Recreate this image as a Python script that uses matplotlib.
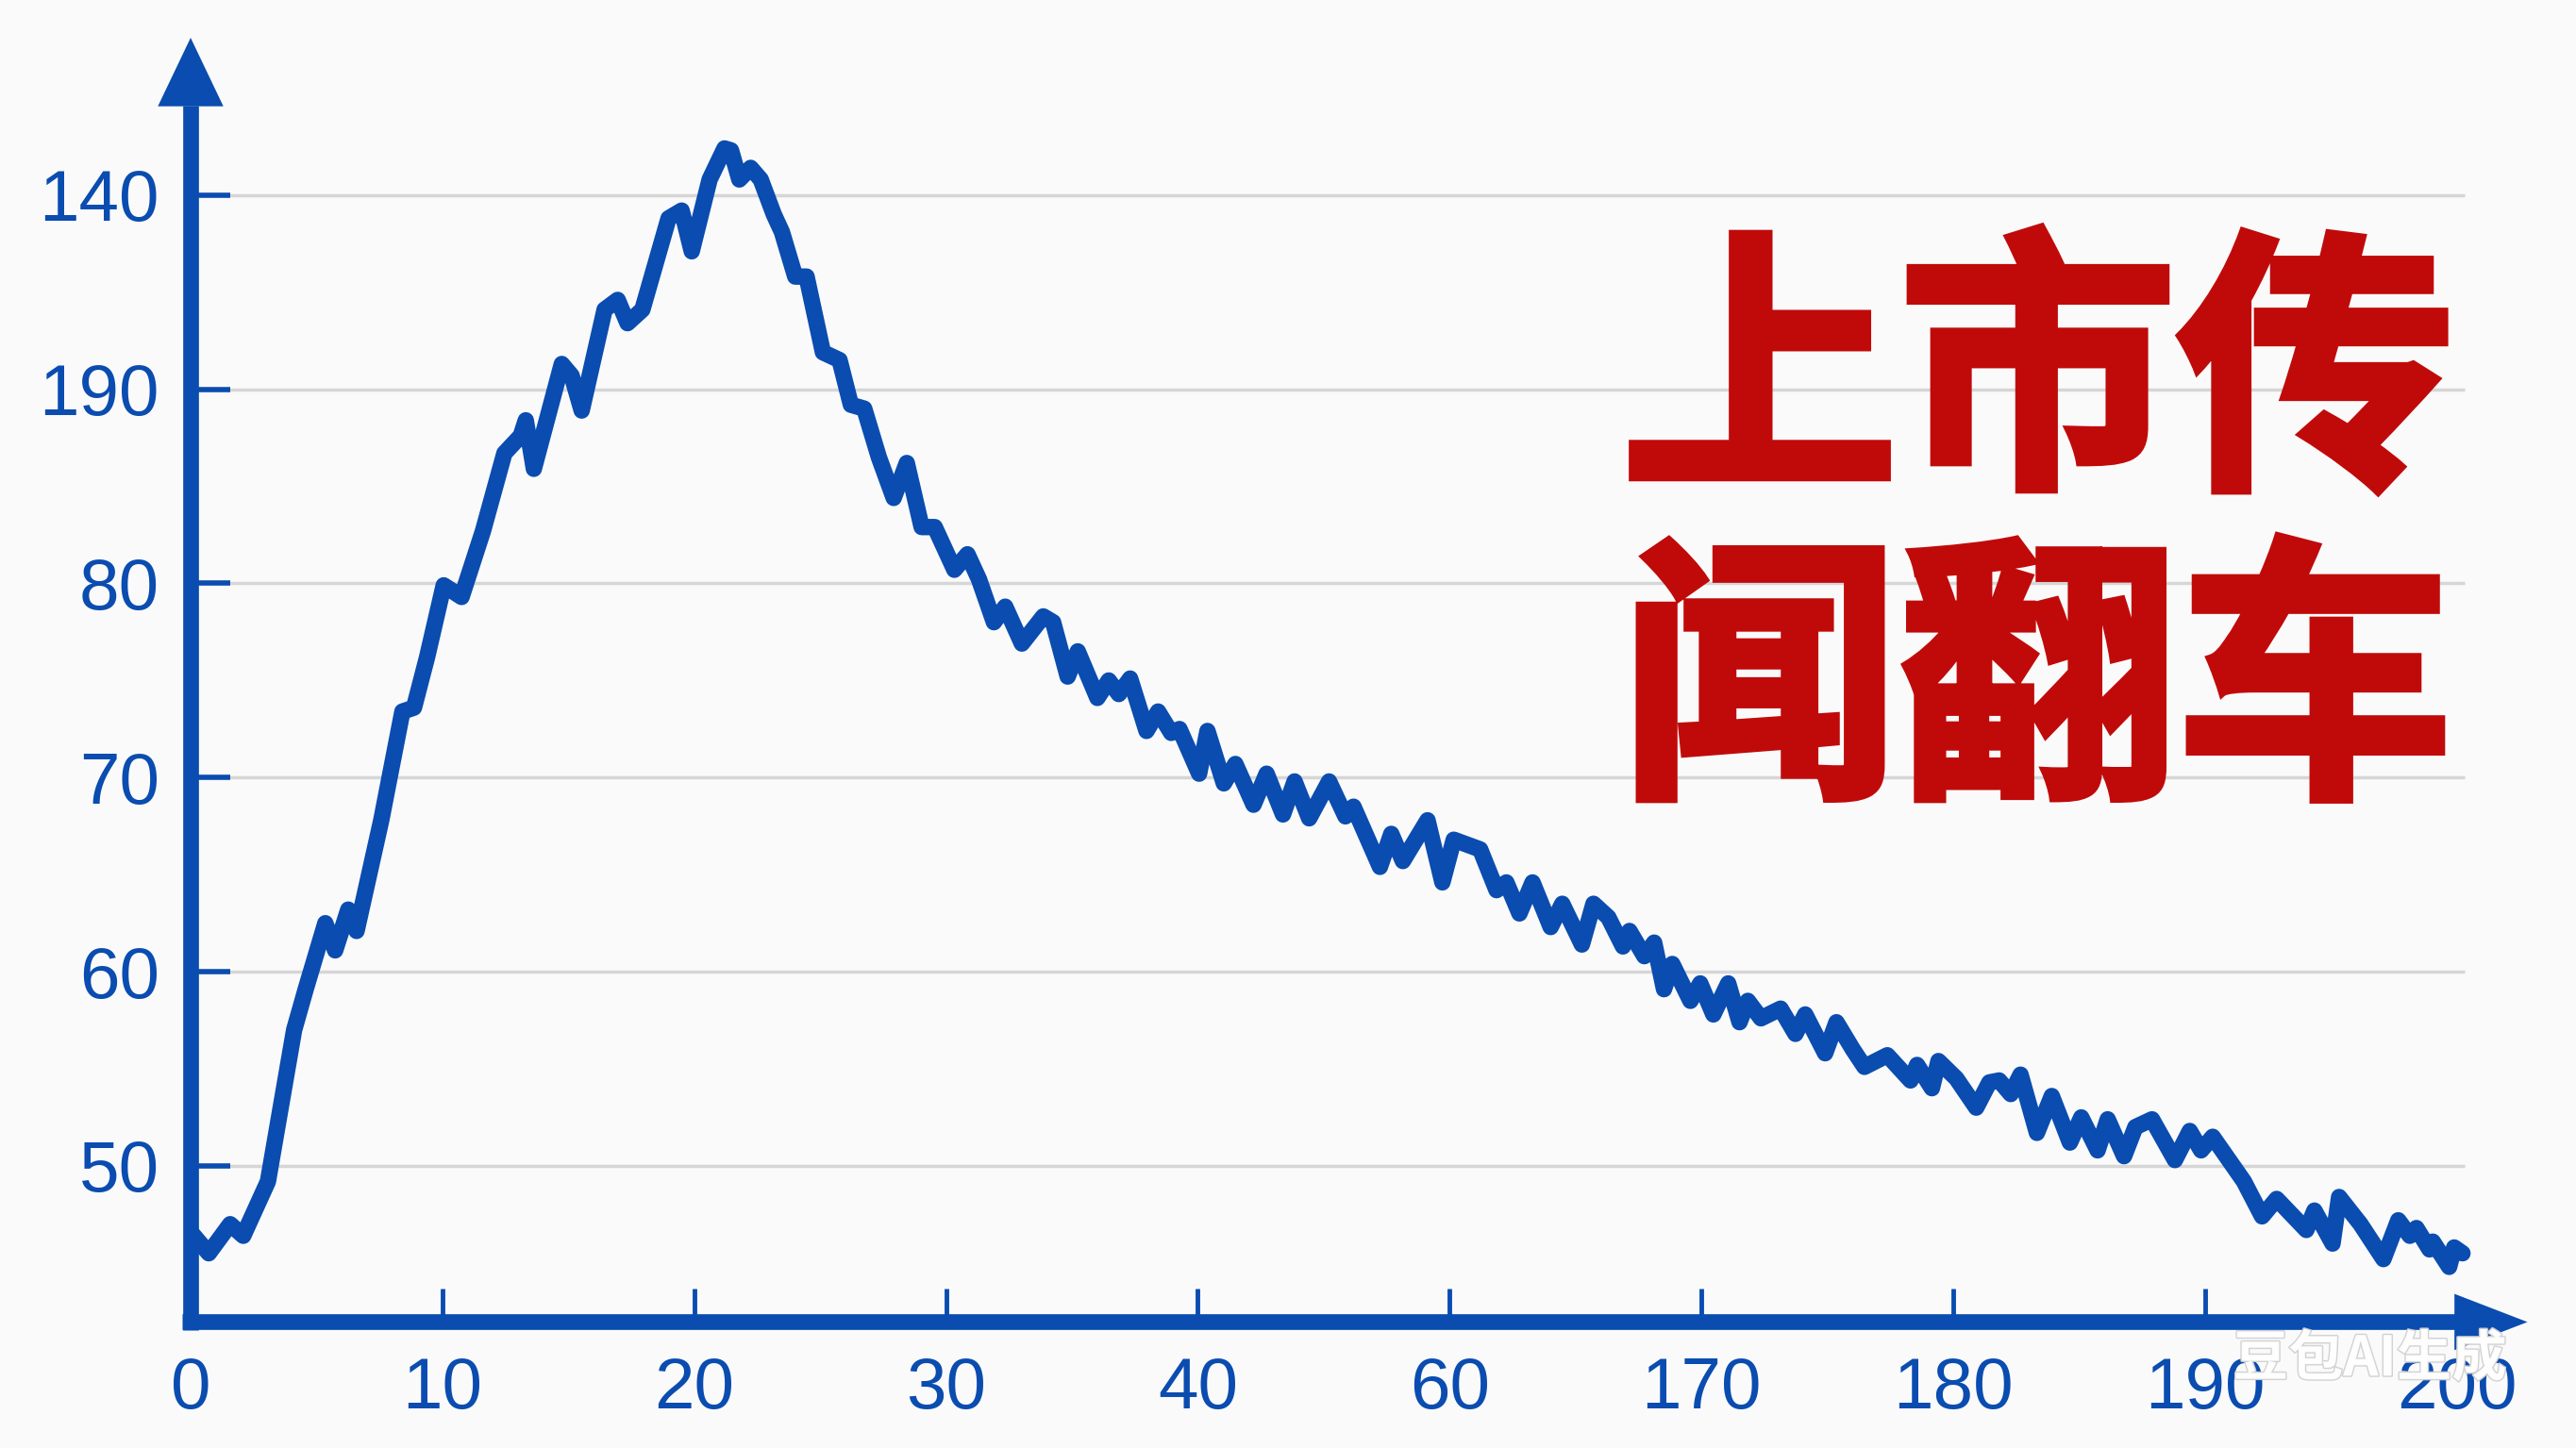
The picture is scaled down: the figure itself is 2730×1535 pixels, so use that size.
import matplotlib
matplotlib.use('Agg')
import matplotlib.pyplot as plt
from matplotlib.patches import Polygon
import matplotlib.patheffects as pe

plt.rcParams['font.family'] = ['Liberation Sans', 'Noto Sans CJK SC', 'DejaVu Sans']

# ---- data ----
x_vals = [0.0, 0.72, 1.57, 2.09, 3.07, 4.11, 4.57, 5.35, 5.74, 6.26, 6.59, 7.57, 8.41, 8.87, 9.39,
          10.05, 10.76, 11.61, 12.46, 13.11, 13.31, 13.63, 14.74, 15.13, 15.53, 16.44, 16.96, 17.35,
          17.94, 18.98, 19.50, 19.90, 20.61, 21.20, 21.46, 21.79, 22.24, 22.64, 23.16, 23.48, 24.01,
          24.46, 25.11, 25.77, 26.22, 26.75, 27.33, 27.92, 28.44, 29.03, 29.55, 30.33, 30.85, 31.31,
          31.90, 32.35, 33.01, 33.86, 34.25, 34.83, 35.23, 36.01, 36.46, 36.86, 37.31, 37.96, 38.42,
          38.94, 39.27, 40.05, 40.38, 41.03, 41.49, 42.21, 42.73, 43.38, 43.84, 44.42, 45.21, 45.86,
          46.18, 47.23, 47.68, 48.14, 49.12, 49.71, 50.16, 51.21, 51.86, 52.25, 52.77, 53.29, 54.01,
          54.47, 55.25, 55.71, 56.30, 56.88, 57.14, 57.73, 58.12, 58.51, 58.84, 59.56, 59.95, 60.47,
          61.06, 61.51, 61.84, 62.36, 63.14, 63.73, 64.12, 64.91, 65.36, 66.01, 66.47, 67.38, 68.30,
          68.56, 69.15, 69.41, 70.12, 70.91, 71.43, 71.82, 72.28, 72.67, 73.32, 73.91, 74.63, 75.08,
          75.73, 76.13, 76.78, 77.23, 77.89, 78.80, 79.39, 79.84, 80.30, 81.54, 82.26, 82.84, 84.02,
          84.34, 85.06, 85.32, 86.17, 87.08, 87.67, 88.13, 88.39, 88.91, 89.04, 89.69, 89.89, 90.22]
y_vals = [46.6, 45.5, 47.0, 46.4, 49.2, 57.0, 59.1, 62.5, 61.1, 63.2, 62.1, 67.8, 73.4, 73.6, 76.2,
          79.9, 79.3, 82.7, 86.7, 87.6, 88.4, 85.9, 91.3, 90.7, 88.9, 94.1, 94.6, 93.4,
          94.1, 98.8, 99.2, 97.1, 100.8, 102.4, 102.3, 100.8, 101.4, 100.8, 99.0, 98.1, 95.8,
          95.8, 91.9, 91.5, 89.2, 89.0, 86.5, 84.4, 86.2, 82.9, 82.9, 80.7, 81.5, 80.2,
          78.0, 78.8, 76.9, 78.3, 78.0, 75.2, 76.5, 74.1, 75.0, 74.3, 75.1, 72.4, 73.4,
          72.3, 72.5, 70.2, 72.4, 69.7, 70.7, 68.6, 70.2, 68.1, 69.8, 67.9, 69.8, 68.0,
          68.5, 65.4, 67.1, 65.7, 67.8, 64.6, 66.8, 66.3, 64.2, 64.6, 63.0, 64.6, 62.3,
          63.5, 61.4, 63.5, 62.8, 61.3, 62.1, 60.8, 61.5, 59.1, 60.4, 58.5, 59.4, 57.8,
          59.4, 57.4, 58.5, 57.6, 58.1, 56.8, 57.8, 55.8, 57.4, 56.0, 55.1, 55.7, 54.4,
          55.2, 54.0, 55.4, 54.5, 53.0, 54.3, 54.4, 53.7, 54.7, 51.7, 53.6, 51.2, 52.5,
          50.8, 52.4, 50.5, 52.0, 52.4, 50.3, 51.8, 50.8, 51.5, 49.2, 47.4, 48.3, 46.7,
          47.7, 46.0, 48.4, 47.0, 45.2, 47.2, 46.4, 46.8, 45.7, 46.1, 44.8, 45.8, 45.5]

x_ticks = [0, 10, 20, 30, 40, 50, 60, 70, 80, 90]
x_labels = ['0', '10', '20', '30', '40', '60', '170', '180', '190', '200']
y_ticks = [50, 60, 70, 80, 90, 100]
y_labels = ['50', '60', '70', '80', '190', '140']
title_lines = ['上市传', '闻翻车']
watermark = '豆包AI生成'

BLUE = '#0a4cb0'
RED = '#c00a0a'
BG = '#fafafa'

X0, X1 = 0, 93.5
Y0, Y1 = 41.96, 109

fig = plt.figure(figsize=(27.3, 15.35), dpi=100, facecolor=BG)
ax = fig.add_axes([0.074, 0.087, 0.914, 0.899])
ax.set_facecolor('none')
ax.set_xlim(X0, X1)
ax.set_ylim(Y0, Y1)
for s in ax.spines.values():
    s.set_visible(False)

# gridlines
ax.hlines(y_ticks, 0, 90.3, colors='#d6d6d6', lw=2.5, zorder=1)

# data line
ax.plot(x_vals, y_vals, color=BLUE, lw=12.5, solid_joinstyle='round', solid_capstyle='round', zorder=3)

# axes with arrows
ax.plot([0, 0], [Y0 - 0.4, 104.6], color=BLUE, lw=12, solid_capstyle='butt', clip_on=False, zorder=4)
ax.plot([-0.32, 90.0], [Y0, Y0], color=BLUE, lw=12, solid_capstyle='butt', clip_on=False, zorder=4)
ax.add_patch(Polygon([(-1.3, 104.57), (1.3, 104.57), (0, 108.1)], closed=True,
                     facecolor=BLUE, edgecolor='none', clip_on=False, zorder=4))
ax.add_patch(Polygon([(89.9, Y0 - 1.45), (89.9, Y0 + 1.45), (92.8, Y0)], closed=True,
                     facecolor=BLUE, edgecolor='none', clip_on=False, zorder=4))

# ticks
ax.set_xticks(x_ticks, x_labels)
ax.set_yticks(y_ticks, y_labels)
ax.tick_params(axis='y', direction='in', length=30, width=4, color=BLUE,
               labelcolor=BLUE, labelsize=55, pad=24)
ax.tick_params(axis='x', direction='in', length=25, width=3.5, color=BLUE,
               labelcolor=BLUE, labelsize=55, pad=26)
ax.xaxis.get_major_ticks()[-1].tick1line.set_visible(False)
ax.xaxis.get_major_ticks()[0].tick1line.set_visible(False)

# title text
title_fx = [pe.Stroke(linewidth=6, foreground=RED, joinstyle='miter'), pe.Normal()]
fig.text(0.791, 0.734, title_lines[0], color=RED, fontsize=212, fontweight='black',
         family=['Noto Sans CJK SC'], ha='center', va='center', path_effects=title_fx)
fig.text(0.791, 0.521, title_lines[1], color=RED, fontsize=212, fontweight='black',
         family=['Noto Sans CJK SC'], ha='center', va='center', path_effects=title_fx)

# watermark
fig.text(0.920, 0.061, watermark, color='white', fontsize=42, fontweight='bold',
         family=['Noto Sans CJK SC', 'DejaVu Sans'], ha='center', va='center', alpha=0.95,
         path_effects=[pe.withStroke(linewidth=2, foreground='#d0d0d0')])

fig.savefig('out.png', dpi=100, facecolor=BG)
